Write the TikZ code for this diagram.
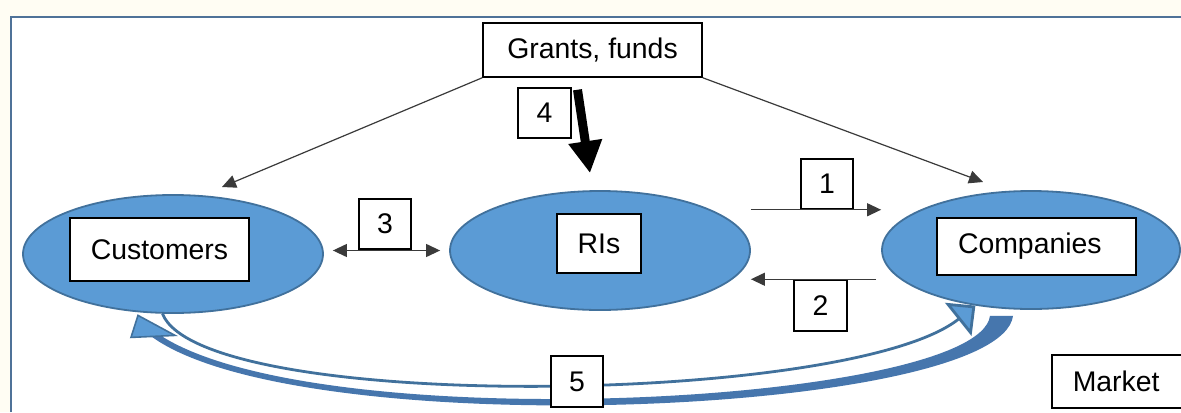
\documentclass[tikz,border=0pt]{standalone}
\usepackage{fontspec}
\setmainfont{Liberation Sans}
\usepackage{tikz}
\usetikzlibrary{arrows.meta,positioning,shapes.geometric,calc}
\definecolor{framecol}{HTML}{4F7298}
\definecolor{papercol}{HTML}{FFFDF3}
\definecolor{ovalfill}{HTML}{5B9BD5}
\definecolor{ovaldraw}{HTML}{41719C}
\definecolor{bandcol}{HTML}{4676AD}
\definecolor{linecol}{HTML}{3A3A3A}

\begin{document}
\begin{tikzpicture}[
    x=0.5pt, y=-0.5pt,
    actor/.style={
        ellipse,
        fill=ovalfill,
        draw=ovaldraw,
        line width=0.9pt,
        inner sep=0pt
    },
    label box/.style={
        draw=black,
        fill=white,
        line width=0.75pt,
        inner sep=0pt,
        font=\fontsize{14.2}{17}\selectfont
    },
    flow/.style={-{Triangle[length=7pt,width=6.5pt]}, line width=0.6pt, draw=linecol},
    funding/.style={-{Triangle[length=16pt,width=16pt]}, line width=4.5pt, draw=black},
    marketflow/.style={line width=1.4pt, draw=ovaldraw,
        -{Triangle[length=11pt,width=21pt,fill=ovalfill]}},
    backhead/.style={fill=ovalfill, draw=ovaldraw, line width=0.8pt}
]
    \useasboundingbox (0,0) rectangle (1181,412);
    \fill[papercol] (0,0) rectangle (1181,412);
    \fill[white] (11,17) rectangle (1181,412);
    \draw[framecol, line width=1pt] (11,412) -- (11,17) -- (1181,17);

    % the three actors
    \node[actor, minimum width=150pt, minimum height=59pt] (cust) at (173,254) {};
    \node[actor, minimum width=150pt, minimum height=59.5pt] (ris) at (600,250.5) {};
    \node[actor, minimum width=149pt, minimum height=59pt] (comp) at (1031,250) {};

    \node[label box, minimum width=89.5pt, minimum height=31.5pt] (custbox) at (159.5,249.5) {Customers};
    \node[label box, minimum width=42pt, minimum height=29.5pt] (risbox) at (599,243.5) {RIs};
    \node[label box, minimum height=28.5pt, inner xsep=10.5pt, text width=78.5pt] (compbox) at (1036.5,246.5) {Companies};

    \node[label box, minimum width=109.5pt, minimum height=27pt] (grants) at (592.5,50) {Grants, funds};
    \node[label box, anchor=west, minimum height=26.5pt, inner xsep=10.5pt, text width=60pt] (market) at (1051,381.5) {Market};

    % numbered flows
    \node[label box, minimum width=26pt, minimum height=25pt] (b1) at (827,184) {1};
    \node[label box, minimum width=26.5pt, minimum height=25.5pt] (b2) at (820.5,305.5) {2};
    \node[label box, minimum width=26pt, minimum height=25pt] (b3) at (385,224) {3};
    \node[label box, minimum width=26.5pt, minimum height=25pt] (b4) at (544.5,113) {4};

    \coordinate (custin) at (222,187);
    \coordinate (compin) at (983,182);

    \draw[flow] (grants.south west) -- (custin);
    \draw[flow] (grants.south east) -- (compin);
    \draw[funding] ($(grants.south)+(-15,12)$) -- ($(ris.north)+(-10,-17)$);

    \draw[flow] (b1.south -| ris.east) -- (b1.south -| comp.west);
    \draw[flow, shorten <=2.5pt] (b2.north -| comp.west) -- (b2.north -| ris.east);
    \draw[flow, {Triangle[length=7pt,width=6.5pt]}-{Triangle[length=7pt,width=6.5pt]},
        shorten <=4.5pt, shorten >=4.5pt] (ris.west -| cust.east) -- (ris.west);

    % market loop
    \draw[marketflow] (cust.260) .. controls +(40,100) and +(-125,100) .. (comp.225);
    \fill[bandcol] ($(comp.south)+(-18,6)$) .. controls +(-13,100) and +(142,112) .. ($(cust.south)+(-25,20)$)
        -- ($(cust.south)+(-23,14)$) .. controls +(140,113) and +(-12,90) .. ($(comp.south)+(-41,6)$) -- cycle;
    \filldraw[backhead] ($(cust.south)+(-35,1.5)$) -- ($(cust.south)+(-42,23.5)$)
        -- ($(cust.south)+(2,21.5)$) -- cycle;

    \node[label box, minimum width=26pt, minimum height=25.5pt] (b5) at (577,381.5) {5};
\end{tikzpicture}
\end{document}
